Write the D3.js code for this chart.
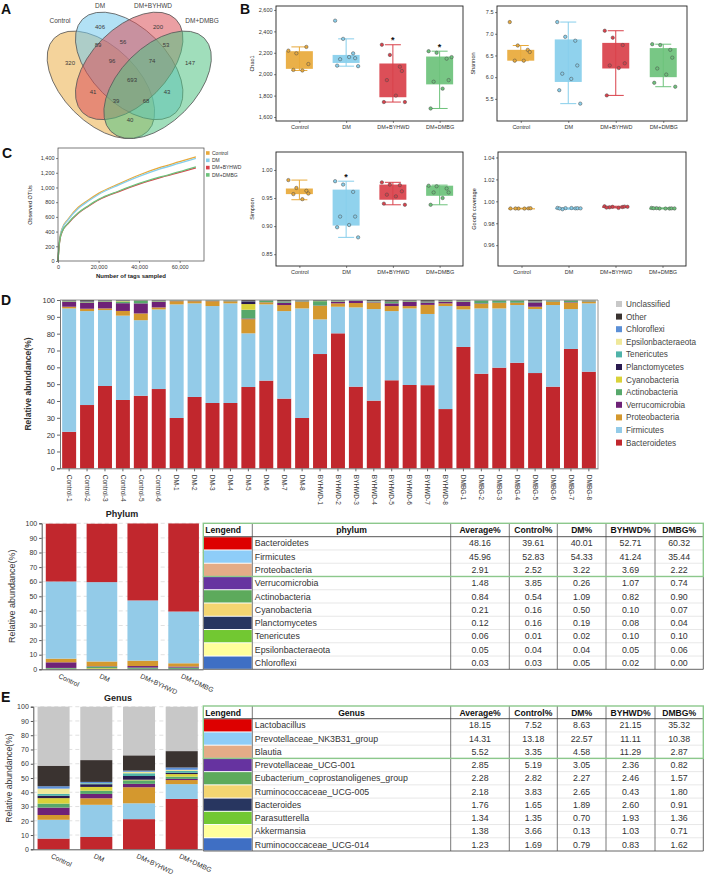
<!DOCTYPE html>
<html><head><meta charset="utf-8">
<script src="https://cdn.jsdelivr.net/npm/d3@7/dist/d3.min.js"></script>
<style>html,body{margin:0;padding:0;background:#fff}svg{display:block}</style>
</head><body>
<svg id="fig" width="708" height="876"></svg>
<script>
// ================= DATA =================
const groups = ["Control","DM","DM+BYHWD","DM+DMBG"];
const groupColors = ["#E8A93A","#87CEEB","#D9404A","#6DC27B"];

// Panel A – Venn
const vennSets = ["Control","DM","DM+BYHWD","DM+DMBG"];
const vennCounts = [320,406,200,147,89,56,53,96,74,693,41,43,39,68,40];

// Panel B – alpha diversity
const chao1Ticks = [1600,1800,2000,2200,2400,2600];
const chao1Box = [[2035,2050,2215,2255],[2075,2105,2180,2330],[1740,1785,2100,2275],[1680,1905,2165,2215]];
const chao1Points = [
  [2220,2195,2255,2095,2040,2035],
  [2500,2330,2195,2150,2140,2160,2080,2075],
  [2275,2180,2070,2030,1945,1800,1740,1740],
  [2215,2200,2145,1945,1930,1865,1680,2160]];
const chao1Sig = [0,0,1,1];

const shannonTicks = [5.5,6.0,6.5,7.0,7.5];
const shannonBox = [[6.38,6.38,6.63,6.73],[5.39,5.89,6.87,7.27],[5.58,6.20,6.79,7.07],[5.78,6.00,6.67,6.76]];
const shannonPoints = [
  [7.27,6.73,6.63,6.58,6.38,6.38],
  [7.27,6.93,6.84,6.27,6.08,5.96,5.70,5.39],
  [7.07,6.91,6.74,6.32,6.27,6.21,5.58],
  [6.76,6.74,6.63,6.45,6.20,6.06,5.87,5.78]];
const shannonSig = [0,0,0,0];

const simpsonTicks = [0.85,0.90,0.95,1.00];
const simpsonBox = [[0.947,0.957,0.967,0.982],[0.880,0.901,0.965,0.980],[0.938,0.947,0.974,0.978],[0.938,0.954,0.972,0.973]];
const simpsonPoints = [
  [0.982,0.968,0.963,0.958,0.957,0.948],
  [0.980,0.974,0.961,0.917,0.917,0.902,0.898,0.880],
  [0.978,0.974,0.973,0.962,0.956,0.953,0.940,0.938],
  [0.972,0.971,0.967,0.960,0.960,0.950,0.938]];
const simpsonSig = [0,1,0,0];

const goodsTicks = [0.96,0.98,1.00,1.02,1.04];
const goodsBox = [[0.9934,0.9934,0.9937,0.9937],[0.9928,0.9935,0.9939,0.9940],[0.9940,0.9944,0.9952,0.9955],[0.9934,0.9935,0.9937,0.9940]];
const goodsPoints = [
  [0.9935,0.9934,0.9936,0.9937,0.9935,0.9934],
  [0.9940,0.9938,0.9936,0.9937,0.9928,0.9939,0.9935,0.9936],
  [0.9955,0.9950,0.9948,0.9952,0.9945,0.9940,0.9943,0.9950],
  [0.9940,0.9935,0.9934,0.9936,0.9938,0.9934,0.9937,0.9935]];
const goodsSig = [0,0,0,0];

// Panel C – rarefaction
const rarefTicksX = [0,20000,40000,60000];
const rarefTicksY = [0,200,400,600,800,1000,1200,1400];
const rarefDepth = [0,500,1000,2000,5000,10000,15000,20000,30000,40000,50000,60000,68000];
const otuControl = [0,210,330,440,570,730,830,920,1050,1170,1270,1350,1415];
const otuDM      = [0,205,325,430,560,715,815,905,1035,1150,1250,1330,1395];
const otuBYHWD   = [0,190,300,395,510,650,745,830,945,1045,1130,1205,1265];
const otuDMBG    = [0,192,302,398,515,655,752,838,952,1055,1140,1215,1280];

// Panel D – phylum per sample
const sampleNames = ["Control-1","Control-2","Control-3","Control-4","Control-5","Control-6",
  "DM-1","DM-2","DM-3","DM-4","DM-5","DM-6","DM-7","DM-8",
  "BYHWD-1","BYHWD-2","BYHWD-3","BYHWD-4","BYHWD-5","BYHWD-6","BYHWD-7","BYHWD-8",
  "DMBG-1","DMBG-2","DMBG-3","DMBG-4","DMBG-5","DMBG-6","DMBG-7","DMBG-8"];
const pctTicks = [0,10,20,30,40,50,60,70,80,90,100];
const phylumKeys = ["Bacteroidetes","Firmicutes","Proteobacteria","Verrucomicrobia","Actinobacteria","Cyanobacteria","Planctomycetes","Tenericutes","Epsilonbacteraeota","Chloroflexi","Other","Unclassified"];
const phylumBarColors = ["#C1272D","#93CBE8","#D4982E","#6E2277","#57A86B","#D9D23A","#2A1B4F","#4FB3A9","#EFE89A","#5B8FD6","#3A3330","#C8C8C8"];
const bacteroidetesPct = [21.7,37.6,48.9,40.6,43.1,47.1,29.9,42.4,38.8,38.8,48.3,52.1,41.4,29.9,67.9,80.2,48.5,40.2,52.3,49.5,49.4,35.2,72.1,56.2,59.8,62.7,56.6,48.5,70.9,57.4];
const firmicutesPct = [73.3,55.8,45.1,50.1,44.9,47.3,67.5,55.6,57.6,59.2,31.9,45.3,52.0,65.1,20.6,15.8,47.1,54.4,41.1,45.5,42.3,61.2,22.3,38.8,35.2,34.3,38.0,48.5,23.7,40.6];
const proteobacteriaPct = [1.0,1.4,1.0,2.8,4.0,1.2,1.9,1.3,2.9,1.2,8.4,1.2,3.6,4.0,8.0,2.0,2.6,3.8,3.0,1.4,5.4,1.6,2.0,2.7,3.2,1.2,1.4,1.9,3.8,1.0];
const verrucomicrobiaPct = [3.0,3.6,4.0,4.6,6.0,3.4,0.1,0.1,0.1,0.1,0.4,0.1,1.4,0.2,0.2,1.0,1.2,0.3,1.6,2.6,1.4,1.0,2.6,0.3,0.2,0.2,2.6,0.2,0.3,0.2];
const actinobacteriaPct = [0.3,0.3,0.3,1.0,1.4,0.3,0.2,0.2,0.2,0.3,5.2,0.9,0.5,0.3,2.6,0.3,0.2,0.3,0.8,0.3,0.3,0.3,0.3,1.6,1.2,1.2,0.3,0.5,0.8,0.3];
const cyanobacteriaPct = [0.1,0.1,0.1,0.3,0.2,0.1,0.1,0.1,0.1,0.1,3.4,0.1,0.1,0.1,0.1,0.1,0.1,0.1,0.1,0.1,0.1,0.1,0.1,0.1,0.1,0.1,0.1,0.1,0.1,0.2];
const planctomycetesPct = [0.2,0.3,0.2,0.3,0.2,0.2,0.1,0.1,0.1,0.1,1.6,0.1,0.1,0.1,0.1,0.1,0.1,0.1,0.1,0.1,0.1,0.1,0.1,0.1,0.1,0.1,0.1,0.1,0.1,0.1];
const tenericutesPct = [0.05,0.05,0.05,0.05,0.05,0.05,0.05,0.05,0.05,0.05,0.05,0.05,0.05,0.05,0.05,0.05,0.05,0.05,0.05,0.05,0.05,0.05,0.05,0.05,0.05,0.05,0.05,0.05,0.05,0.05];
const epsilonPct = [0.05,0.05,0.05,0.05,0.05,0.05,0.05,0.05,0.05,0.05,0.05,0.05,0.05,0.05,0.05,0.05,0.05,0.05,0.05,0.05,0.05,0.05,0.05,0.05,0.05,0.05,0.05,0.05,0.05,0.05];
const chloroflexiPct = [0.05,0.05,0.05,0.05,0.05,0.05,0.05,0.05,0.05,0.05,0.05,0.05,0.05,0.05,0.05,0.05,0.05,0.05,0.05,0.05,0.05,0.05,0.05,0.05,0.05,0.05,0.05,0.05,0.05,0.05];
const otherPct = [0.25,0.75,0.25,0.15,0.05,0.25,0.05,0.05,0.05,0.05,0.65,0.05,0.75,0.15,0.35,0.35,0.05,0.65,0.85,0.35,0.85,0.35,0.35,0.05,0.05,0.05,0.75,0.05,0.15,0.05];

// Phylum table / group means
const phylumNames = ["Bacteroidetes","Firmicutes","Proteobacteria","Verrucomicrobia","Actinobacteria","Cyanobacteria","Planctomycetes","Tenericutes","Epsilonbacteraeota","Chloroflexi"];
const phylumAvg     = [48.16,45.96,2.91,1.48,0.84,0.21,0.12,0.06,0.05,0.03];
const phylumControl = [39.61,52.83,2.52,3.85,0.54,0.16,0.16,0.01,0.04,0.03];
const phylumDM      = [40.01,54.33,3.22,0.26,1.09,0.50,0.19,0.02,0.04,0.05];
const phylumBYHWD   = [52.71,41.24,3.69,1.07,0.82,0.10,0.08,0.10,0.05,0.02];
const phylumDMBG    = [60.32,35.44,2.22,0.74,0.90,0.07,0.04,0.10,0.06,0.00];
const tableSwatches = ["#DD0000","#8ECDF8","#E4AC87","#6633A0","#5DAA5C","#F4D571","#283660","#72C832","#FFFF9C","#3F6FC4"];
const tableHeaders = ["Average%","Control%","DM%","BYHWD%","DMBG%"];

// Genus table / group means
const genusNames = ["Lactobacillus","Prevotellaceae_NK3B31_group","Blautia","Prevotellaceae_UCG-001","Eubacterium_coprostanoligenes_group","Ruminococcaceae_UCG-005","Bacteroides","Parasutterella","Akkermansia","Ruminococcaceae_UCG-014"];
const genusAvg     = [18.15,14.31,5.52,2.85,2.28,2.18,1.76,1.34,1.38,1.23];
const genusControl = [7.52,13.18,3.35,5.19,2.82,3.83,1.65,1.35,3.66,1.69];
const genusDM      = [8.63,22.57,4.58,3.05,2.27,2.65,1.89,0.70,0.13,0.79];
const genusBYHWD   = [21.15,11.11,11.29,2.36,2.46,0.43,2.60,1.93,1.03,0.83];
const genusDMBG    = [35.32,10.38,2.87,0.82,1.57,1.80,0.91,1.36,0.71,1.62];
const genusOther        = [14.4,15.3,10.7,11.5];
const genusUnclassified = [41.4,37.4,34.1,31.1];

// ================= LAYOUT / STYLE =================
const FONT = "'Liberation Sans', Arial, Helvetica, sans-serif";
const TFONT = "'Liberation Sans', Arial, sans-serif";
const svg = d3.select("#fig").attr("font-family", FONT);

// panel letters
[["A",1,14],["B",240,14],["C",2,158],["D",1,305],["E",1,702]].forEach(([t,x,y]) =>
  svg.append("text").attr("x",x).attr("y",y).attr("font-size",14).attr("font-weight","bold").attr("fill","#111").text(t));

// ================= A: Venn =================
(function(){
  const ell = [ {cx:100.9, cy:84.8, rot:45, col:"#EBAE48"},
                {cx:129.2, cy:65.9, rot:45, col:"#72C8EC"},
                {cx:129.2, cy:65.9, rot:-45, col:"#DB5058"},
                {cx:157.6, cy:84.8, rot:-45, col:"#52C384"} ];
  const g = svg.append("g");
  g.selectAll("ellipse").data(vennSets).join("ellipse")
    .attr("cx",(d,i)=>ell[i].cx).attr("cy",(d,i)=>ell[i].cy)
    .attr("rx",66).attr("ry",37.8)
    .attr("transform",(d,i)=>`rotate(${ell[i].rot},${ell[i].cx},${ell[i].cy})`)
    .attr("fill",(d,i)=>ell[i].col).attr("fill-opacity",0.55)
    .attr("stroke","#5a5a5a").attr("stroke-width",0.8);
  const labelXY = [[60,23],[100,8],[153,8],[202,23]];
  g.selectAll("text.set").data(vennSets).join("text").attr("class","set")
    .attr("x",(d,i)=>labelXY[i][0]).attr("y",(d,i)=>labelXY[i][1])
    .attr("text-anchor","middle").attr("font-size",6.5).attr("fill","#444").text(d=>d);
  const numXY = [[70,63],[100,27],[158,27],[190,63],[98,45],[123,42],[166,45],[112,61],[152,61],[132,80],[93,92],[167,92],[116,101],[146,101],[130,120]];
  g.selectAll("text.num").data(vennCounts).join("text").attr("class","num")
    .attr("x",(d,i)=>numXY[i][0]).attr("y",(d,i)=>numXY[i][1]+2)
    .attr("text-anchor","middle").attr("font-size",6).attr("fill","#3a3a3a").text(d=>d);
})();

// ================= B: box plots =================
const jitter = [-11,-3,7,9,-6,3,-9,12];
function boxPanel(f, domain, ticks, fmt, title, box, pts, sig){
  const g = svg.append("g");
  const x = d3.scalePoint().domain(groups).range([f.x0,f.x1]).padding(0.5);
  const y = d3.scaleLinear().domain(domain).range([f.y1,f.y0]);
  const ya = g.append("g").attr("transform",`translate(${f.x0},0)`)
    .call(d3.axisLeft(y).tickValues(ticks).tickFormat(fmt).tickSize(2).tickPadding(1.5));
  const xa = g.append("g").attr("transform",`translate(0,${f.y1})`)
    .call(d3.axisBottom(x).tickSize(2).tickPadding(2.5));
  [ya,xa].forEach(a=>{ a.select(".domain").remove();
    a.selectAll("text").attr("font-size",5.5).attr("font-family",FONT).attr("fill","#333");
    a.selectAll("line").attr("stroke","#333").attr("stroke-width",0.6); });
  g.append("text").attr("transform",`translate(${f.x0-22},${(f.y0+f.y1)/2}) rotate(-90)`)
    .attr("text-anchor","middle").attr("font-size",5.5).attr("fill","#222").text(title);
  const bw = 27, cw = 16;
  const gg = g.selectAll("g.grp").data(groups).join("g").attr("class","grp");
  gg.append("line").attr("x1",d=>x(d)).attr("x2",d=>x(d))
    .attr("y1",(d,i)=>y(box[i][0])).attr("y2",(d,i)=>y(box[i][3]))
    .attr("stroke",(d,i)=>groupColors[i]).attr("stroke-width",1);
  [0,3].forEach(k=> gg.append("line").attr("x1",d=>x(d)-cw/2).attr("x2",d=>x(d)+cw/2)
    .attr("y1",(d,i)=>y(box[i][k])).attr("y2",(d,i)=>y(box[i][k]))
    .attr("stroke",(d,i)=>groupColors[i]).attr("stroke-width",1));
  gg.append("rect").attr("x",d=>x(d)-bw/2).attr("width",bw)
    .attr("y",(d,i)=>y(box[i][2])).attr("height",(d,i)=>Math.max(1.2,y(box[i][1])-y(box[i][2])))
    .attr("fill",(d,i)=>groupColors[i]).attr("fill-opacity",0.92);
  gg.each(function(d,i){
    d3.select(this).selectAll("circle").data(pts[i]).join("circle")
      .attr("cx",(v,j)=>x(d)+jitter[j%jitter.length]).attr("cy",v=>y(v)).attr("r",1.7)
      .attr("fill",groupColors[i]).attr("stroke","#4a4a4a").attr("stroke-width",0.5);
    if (sig[i]) d3.select(this).append("text").attr("x",x(d)).attr("y",y(box[i][3])-1.5)
      .attr("text-anchor","middle").attr("font-size",9).attr("font-weight","bold").attr("fill","#111").text("*");
  });
  g.append("rect").attr("x",f.x0).attr("y",f.y0).attr("width",f.x1-f.x0).attr("height",f.y1-f.y0)
    .attr("fill","none").attr("stroke","#222").attr("stroke-width",0.9);
}
boxPanel({x0:276,x1:463,y0:6,y1:121},[1563,2637],chao1Ticks,d3.format(","),"Chao1",chao1Box,chao1Points,chao1Sig);
boxPanel({x0:497,x1:687,y0:6,y1:121},[4.99,7.64],shannonTicks,d3.format(".1f"),"Shannon",shannonBox,shannonPoints,shannonSig);
boxPanel({x0:276,x1:463,y0:152,y1:266},[0.829,1.032],simpsonTicks,d3.format(".2f"),"Simpson",simpsonBox,simpsonPoints,simpsonSig);
boxPanel({x0:498,x1:686,y0:152,y1:266},[0.941,1.045],goodsTicks,d3.format(".2f"),"Good's coverage",goodsBox,goodsPoints,goodsSig);

// ================= C: rarefaction =================
(function(){
  const f = {x0:58,x1:204,y0:148,y1:261};
  const g = svg.append("g");
  const x = d3.scaleLinear().domain([0,72000]).range([f.x0,f.x1]);
  const y = d3.scaleLinear().domain([0,1537]).range([f.y1,f.y0]);
  const ya = g.append("g").attr("transform",`translate(${f.x0},0)`)
    .call(d3.axisLeft(y).tickValues(rarefTicksY).tickFormat(d3.format(",")).tickSize(2).tickPadding(1.5));
  const xa = g.append("g").attr("transform",`translate(0,${f.y1})`)
    .call(d3.axisBottom(x).tickValues(rarefTicksX).tickFormat(d3.format(",")).tickSize(2).tickPadding(2));
  [ya,xa].forEach(a=>{ a.select(".domain").remove();
    a.selectAll("text").attr("font-size",5.5).attr("font-family",FONT).attr("fill","#333");
    a.selectAll("line").attr("stroke","#333").attr("stroke-width",0.6); });
  const series = [otuControl,otuDM,otuBYHWD,otuDMBG];
  const line = d3.line().x((v,i)=>x(rarefDepth[i])).y(v=>y(v)).curve(d3.curveMonotoneX);
  g.selectAll("path.s").data(series).join("path").attr("class","s")
    .attr("d",line).attr("fill","none").attr("stroke",(d,i)=>groupColors[i]).attr("stroke-width",1.3);
  g.append("rect").attr("x",f.x0).attr("y",f.y0).attr("width",f.x1-f.x0).attr("height",f.y1-f.y0)
    .attr("fill","none").attr("stroke","#444").attr("stroke-width",0.7);
  g.append("text").attr("x",131).attr("y",278).attr("text-anchor","middle").attr("font-size",6).attr("font-weight","bold").attr("fill","#222").text("Number of tags sampled");
  g.append("text").attr("transform",`translate(32,205) rotate(-90)`).attr("text-anchor","middle").attr("font-size",5.5).attr("fill","#222").text("Observed OTUs");
  const lg = g.selectAll("g.lg").data(groups).join("g").attr("class","lg")
    .attr("transform",(d,i)=>`translate(206,${153+i*7.3})`);
  lg.append("rect").attr("x",0).attr("y",-1.8).attr("width",3.6).attr("height",3.6).attr("fill",(d,i)=>groupColors[i]);
  lg.append("text").attr("x",6).attr("y",1.8).attr("font-size",5).attr("fill","#333").text(d=>d);
})();

// ================= D: phylum stacked per sample =================
(function(){
  const g = svg.append("g");
  const x = d3.scaleBand().domain(sampleNames).range([60,598]).paddingInner(0.22).paddingOuter(0.12);
  const y = d3.scaleLinear().domain([0,100]).range([468.3,300]);
  const cols = [bacteroidetesPct,firmicutesPct,proteobacteriaPct,verrucomicrobiaPct,actinobacteriaPct,cyanobacteriaPct,planctomycetesPct,tenericutesPct,epsilonPct,chloroflexiPct,otherPct];
  const stackKeys = phylumKeys.slice(0,11);
  const rows = sampleNames.map((s,i)=>{ const o={sample:s}; stackKeys.forEach((k,j)=>o[k]=cols[j][i]); return o; });
  const stacked = d3.stack().keys(stackKeys)(rows);
  g.selectAll("g.layer").data(stacked).join("g").attr("class","layer")
    .attr("fill",(d,i)=>phylumBarColors[i])
    .selectAll("rect").data(d=>d).join("rect")
      .attr("x",d=>x(d.data.sample)).attr("width",x.bandwidth())
      .attr("y",d=>y(d[1])).attr("height",d=>Math.max(0,y(d[0])-y(d[1])));
  // frame top/right
  g.append("path").attr("d","M60,300H598V468.3").attr("fill","none").attr("stroke","#888").attr("stroke-width",0.9);
  const ya = g.append("g").attr("transform","translate(60,0)")
    .call(d3.axisLeft(y).tickValues(pctTicks).tickSize(3).tickPadding(2));
  ya.select(".domain").attr("stroke","#666").attr("stroke-width",0.9);
  ya.selectAll("text").attr("font-size",7.5).attr("font-family",FONT).attr("fill","#333");
  ya.selectAll("line").attr("stroke","#666");
  const xa = g.append("g").attr("transform","translate(0,468.3)")
    .call(d3.axisBottom(x).tickSize(3).tickSizeOuter(0));
  xa.select(".domain").attr("stroke","#666").attr("stroke-width",0.9);
  xa.selectAll("line").attr("stroke","#666");
  xa.selectAll("text").attr("font-size",6.5).attr("font-family",FONT).attr("fill","#333")
    .attr("y",0).attr("x",6.5).attr("dy","0.35em").attr("transform","rotate(90)").style("text-anchor","start");
  g.append("text").attr("transform","translate(31,384) rotate(-90)").attr("text-anchor","middle")
    .attr("font-size",8.5).attr("font-weight","bold").attr("fill","#333").text("Relative abundance(%)");
  // legend (top to bottom: reverse of stack)
  const legendKeys = phylumKeys.slice().reverse();
  const lg = g.selectAll("g.leg").data(legendKeys).join("g").attr("class","leg")
    .attr("transform",(d,i)=>`translate(616,${304+i*12.6})`);
  lg.append("rect").attr("x",0).attr("y",-3).attr("width",6).attr("height",6)
    .attr("fill",d=>phylumBarColors[phylumKeys.indexOf(d)]);
  lg.append("text").attr("x",10).attr("y",3).attr("font-size",8.2).attr("fill","#444").text(d=>d);
})();

// ================= small group stacked charts =================
function groupStack(opt){
  const g = svg.append("g");
  const x = d3.scaleBand().domain(groups).range([opt.x0,opt.x1]).paddingInner(0.25).paddingOuter(0.1);
  const y = d3.scaleLinear().domain([0,100]).range([opt.y1,opt.y0]);
  // dashed grid
  g.selectAll("line.grid").data(pctTicks.slice(1)).join("line").attr("class","grid")
    .attr("x1",opt.x0).attr("x2",opt.x1).attr("y1",d=>y(d)).attr("y2",d=>y(d))
    .attr("stroke","#d4d4d4").attr("stroke-width",0.7).attr("stroke-dasharray","4,3");
  const rows = groups.map((gname,gi)=>{ const o={grp:gname}; opt.keys.forEach((k,j)=>o[k]=opt.values[j][gi]); return o; });
  const stacked = d3.stack().keys(opt.keys)(rows);
  g.selectAll("g.layer").data(stacked).join("g").attr("class","layer")
    .attr("fill",(d,i)=>opt.colors[i])
    .selectAll("rect").data(d=>d).join("rect")
      .attr("x",d=>x(d.data.grp)).attr("width",x.bandwidth())
      .attr("y",d=>y(d[1])).attr("height",d=>Math.max(0,y(d[0])-y(d[1])));
  const ya = g.append("g").attr("transform",`translate(${opt.x0},0)`)
    .call(d3.axisLeft(y).tickValues(pctTicks).tickSize(2.5).tickPadding(2));
  ya.select(".domain").attr("stroke","#555");
  ya.selectAll("line").attr("stroke","#555");
  ya.selectAll("text").attr("font-size",7).attr("font-family",FONT).attr("fill","#333");
  const xa = g.append("g").attr("transform",`translate(0,${opt.y1})`)
    .call(d3.axisBottom(x).tickSize(0).tickSizeOuter(0));
  xa.select(".domain").attr("stroke","#555");
  xa.selectAll("text").attr("font-size",6.8).attr("font-family",FONT).attr("fill","#333")
    .attr("x",0).attr("y",0).attr("dy","0.71em").attr("transform","translate(-1,4) rotate(25)").style("text-anchor","start");
  g.append("text").attr("transform",`translate(${opt.titleX},${(opt.y0+opt.y1)/2}) rotate(-90)`)
    .attr("text-anchor","middle").attr("dy","0.35em").attr("font-size",opt.titleSize).attr("fill","#333").text("Relative abundance(%)");
  g.append("text").attr("x",opt.headX).attr("y",opt.headY).attr("text-anchor","middle")
    .attr("font-size",9).attr("font-weight","bold").attr("fill","#222").text(opt.head);
}
const phylumGroupVals = phylumNames.map((n,i)=>[phylumControl[i],phylumDM[i],phylumBYHWD[i],phylumDMBG[i]]);
groupStack({x0:41.7,x1:203,y0:523.3,y1:669.3,
  keys: phylumNames.slice().reverse(),
  values: phylumGroupVals.slice().reverse(),
  colors: phylumBarColors.slice(0,10).reverse(),
  titleX:12, titleSize:9, head:"Phylum", headX:122, headY:517});
const genusKeys = genusNames.concat(["Other","Unclassified"]);
const genusGroupVals = genusNames.map((n,i)=>[genusControl[i],genusDM[i],genusBYHWD[i],genusDMBG[i]]).concat([genusOther, genusUnclassified]);
groupStack({x0:33.3,x1:202,y0:706.7,y1:849.3,
  keys: genusKeys, values: genusGroupVals, colors: phylumBarColors,
  titleX:8.5, titleSize:8.6, head:"Genus", headX:118, headY:701});

// ================= tables =================
const colX = [203.3,252.3,450.7,509.3,557.3,606,655,703.3];
function drawTable(top, hh, rh, nameHeader, names, vals){
  const g = svg.append("g").attr("font-family",TFONT);
  const n = names.length, bottom = top+hh+rh*n, mid = top+hh+3*rh;
  const rowsG = g.selectAll("g.row").data(names).join("g").attr("class","row")
    .attr("transform",(d,i)=>`translate(0,${top+hh+i*rh})`);
  rowsG.append("rect").attr("x",colX[0]+0.6).attr("y",0.5).attr("width",colX[1]-colX[0]-1.2).attr("height",rh-1)
    .attr("fill",(d,i)=>tableSwatches[i]);
  rowsG.append("text").attr("x",colX[1]+2.5).attr("y",rh*0.74).attr("font-size",8.8).attr("fill","#333").text(d=>d);
  vals.forEach((arr,c)=> rowsG.append("text").attr("x",(colX[c+2]+colX[c+3])/2).attr("y",rh*0.74)
    .attr("text-anchor","middle").attr("font-size",8.8).attr("fill","#333").text((d,i)=>d3.format(".2f")(arr[i])));
  rowsG.filter((d,i)=>i<n-1).append("line").attr("x1",colX[1]).attr("x2",colX[7]).attr("y1",rh).attr("y2",rh)
    .attr("stroke","#d6d6d6").attr("stroke-width",0.6);
  // vertical column lines
  g.selectAll("line.v").data(colX.slice(1,7)).join("line").attr("class","v")
    .attr("x1",d=>d).attr("x2",d=>d).attr("y1",top).attr("y2",bottom).attr("stroke","#555").attr("stroke-width",0.8);
  g.append("line").attr("x1",colX[0]).attr("x2",colX[7]).attr("y1",top+hh).attr("y2",top+hh).attr("stroke","#444").attr("stroke-width",0.9);
  g.append("path").attr("d",`M${colX[0]},${mid}V${bottom}H${colX[7]}V${mid}`).attr("fill","none").attr("stroke","#555").attr("stroke-width",0.9);
  g.append("rect").attr("x",colX[0]).attr("y",top).attr("width",colX[7]-colX[0]).attr("height",hh+3*rh)
    .attr("fill","none").attr("stroke","#8CC88C").attr("stroke-width",1.4);
  const heads = ["Lengend", nameHeader].concat(tableHeaders);
  g.selectAll("text.h").data(heads).join("text").attr("class","h")
    .attr("x",(d,i)=> i===0 ? colX[0]+2 : (colX[i]+colX[i+1])/2)
    .attr("y",top+hh*0.76).attr("text-anchor",(d,i)=>i===0?"start":"middle")
    .attr("font-size",8.6).attr("font-weight","bold").attr("fill","#111").text(d=>d);
}
drawTable(523.3,13.4,13.26,"phylum",phylumNames,[phylumAvg,phylumControl,phylumDM,phylumBYHWD,phylumDMBG]);
drawTable(706,12.7,13.23,"Genus",genusNames,[genusAvg,genusControl,genusDM,genusBYHWD,genusDMBG]);
</script>
</body></html>
